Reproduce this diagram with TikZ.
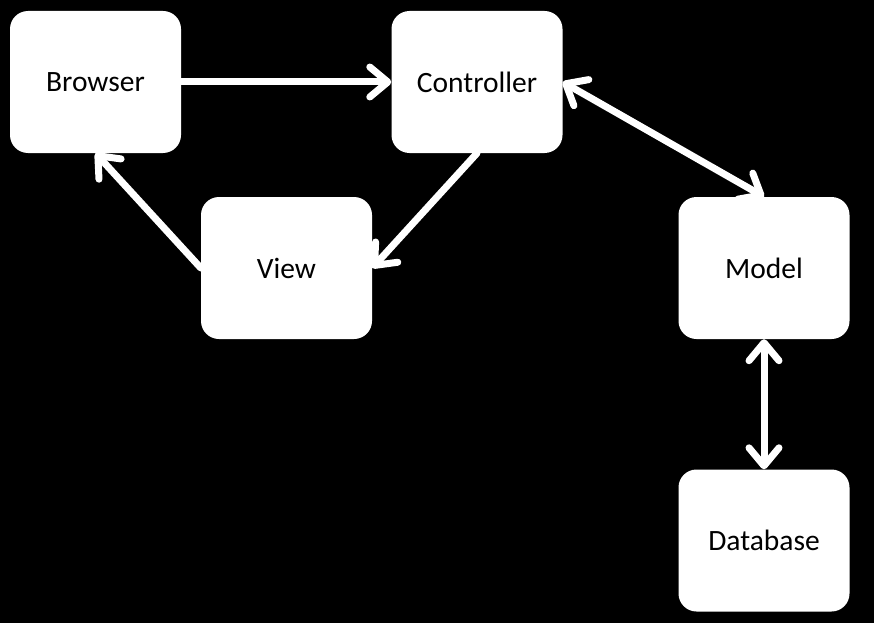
\documentclass[tikz,border=0pt]{standalone}
\usepackage{fontspec}
\setmainfont{Carlito}
\usetikzlibrary{arrows.meta}
\begin{document}
\begin{tikzpicture}[x=1pt,y=-1pt,
  box/.style={fill=white, rounded corners=18pt, minimum width=171pt, minimum height=142pt,
    inner sep=0pt, font=\fontsize{29.5}{35}\selectfont, text=black},
  link/.style={draw=white, line width=7pt, line cap=round,
    -{Straight Barb[length=18pt,width=30pt,round]}},
  both/.style={link, {Straight Barb[length=18pt,width=30pt,round]}-{Straight Barb[length=18pt,width=30pt,round]}}]
  % canvas
  \fill[black] (0,0) rectangle (874,623);
  \useasboundingbox (0,0) rectangle (874,623);
  % components
  \node[box] (browser)    at (95.5,82)  {Browser};
  \node[box] (controller) at (477,82)   {Controller};
  \node[box] (view)       at (286.5,268) {View};
  \node[box] (model)      at (764,268)  {Model};
  \node[box] (database)   at (764,540.5) {Database};
  % request / response flow
  \draw[link] (browser.east) -- (controller.west);
  \draw[link] (controller.south) -- (view.east);
  \draw[link] (view.west) -- (browser.south);
  \draw[both] (controller.east) -- (model.north);
  \draw[both] (model.south) -- (database.north);
\end{tikzpicture}
\end{document}
